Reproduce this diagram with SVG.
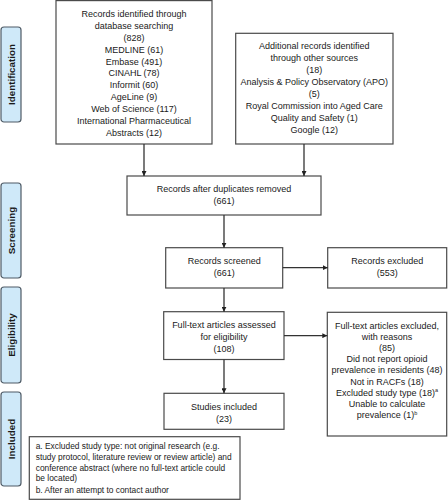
<svg xmlns="http://www.w3.org/2000/svg" width="448" height="500" viewBox="0 0 448 500">
<style>
.box{fill:#fff;stroke:#4a4a4a;stroke-width:1.2}
.lab{fill:#cfe9f9;stroke:#4f5b66;stroke-width:1.2}
.t{font-family:"Liberation Sans",Arial,sans-serif;font-size:9px;fill:#1a1a1a;text-anchor:middle}
.f{font-family:"Liberation Sans",Arial,sans-serif;font-size:8.4px;fill:#1a1a1a}
.lt{font-family:"Liberation Sans",Arial,sans-serif;font-size:9.8px;font-weight:bold;fill:#1a1a1a;text-anchor:middle}
.c{stroke:#333;stroke-width:1.3;fill:none;marker-end:url(#ah)}
.sup{font-size:5.5px}
</style>
<defs>
<marker id="ah" viewBox="0 0 10 10" refX="10" refY="5" markerWidth="5" markerHeight="5" markerUnits="userSpaceOnUse" orient="auto">
<path d="M0,0 L10,5 L0,10 z" fill="#222"/>
</marker>
</defs>
<rect width="448" height="500" fill="#fff"/>

<g id="phase-identification">
<rect class="lab" x="1" y="27" width="20" height="95" rx="3"/>
<text class="lt" transform="translate(14.5,74.5) rotate(-90)">Identification</text>
</g>
<g id="phase-screening">
<rect class="lab" x="1" y="183" width="20" height="95" rx="3"/>
<text class="lt" transform="translate(14.5,230.5) rotate(-90)">Screening</text>
</g>
<g id="phase-eligibility">
<rect class="lab" x="1" y="287" width="20" height="96" rx="3"/>
<text class="lt" transform="translate(14.5,335) rotate(-90)">Eligibility</text>
</g>
<g id="phase-included">
<rect class="lab" x="1" y="392" width="20" height="94" rx="3"/>
<text class="lt" transform="translate(14.5,439) rotate(-90)">Included</text>
</g>

<g id="db-search">
<rect class="box" x="56" y="0.6" width="156" height="143.4"/>
<text class="t" x="134" y="17">Records identified through</text>
<text class="t" x="134" y="28.9">database searching</text>
<text class="t" x="134" y="40.7">(828)</text>
<text class="t" x="134" y="52.6">MEDLINE (61)</text>
<text class="t" x="134" y="64.5">Embase (491)</text>
<text class="t" x="134" y="76.4">CINAHL (78)</text>
<text class="t" x="134" y="88.2">Informit (60)</text>
<text class="t" x="134" y="100.1">AgeLine (9)</text>
<text class="t" x="134" y="112">Web of Science (117)</text>
<text class="t" x="134" y="123.8">International Pharmaceutical</text>
<text class="t" x="134" y="135.7">Abstracts (12)</text>
</g>

<g id="other-sources">
<rect class="box" x="235.7" y="33.3" width="157.3" height="110.7"/>
<text class="t" x="314.3" y="49">Additional records identified</text>
<text class="t" x="314.3" y="61">through other sources</text>
<text class="t" x="314.3" y="73">(18)</text>
<text class="t" x="314.3" y="85">Analysis &amp; Policy Observatory (APO)</text>
<text class="t" x="314.3" y="97">(5)</text>
<text class="t" x="314.3" y="109">Royal Commission into Aged Care</text>
<text class="t" x="314.3" y="121">Quality and Safety (1)</text>
<text class="t" x="314.3" y="133">Google (12)</text>
</g>

<g id="dedup">
<rect class="box" x="127" y="176" width="194" height="39"/>
<text class="t" x="224" y="192.3">Records after duplicates removed</text>
<text class="t" x="224" y="204.3">(661)</text>
</g>

<g id="screened">
<rect class="box" x="165.7" y="247.7" width="117" height="40.3"/>
<text class="t" x="224.2" y="264">Records screened</text>
<text class="t" x="224.2" y="276">(661)</text>
</g>

<g id="excluded">
<rect class="box" x="327.7" y="247.7" width="119" height="40.3"/>
<text class="t" x="387.2" y="264">Records excluded</text>
<text class="t" x="387.2" y="276">(553)</text>
</g>

<g id="fulltext">
<rect class="box" x="163.7" y="311.7" width="120.3" height="47.8"/>
<text class="t" x="223.9" y="328">Full-text articles assessed</text>
<text class="t" x="223.9" y="340">for eligibility</text>
<text class="t" x="223.9" y="352">(108)</text>
</g>

<g id="fulltext-excluded">
<rect class="box" x="327.3" y="312.3" width="119.4" height="123.7"/>
<text class="t" x="387" y="328.5">Full-text articles excluded,</text>
<text class="t" x="387" y="339.7">with reasons</text>
<text class="t" x="387" y="350.9">(85)</text>
<text class="t" x="387" y="362.1">Did not report opioid</text>
<text class="t" x="387" y="373.3">prevalence in residents (48)</text>
<text class="t" x="387" y="384.5">Not in RACFs (18)</text>
<text class="t" x="387" y="395.7">Excluded study type (18)<tspan class="sup" dy="-3.5">a</tspan></text>
<text class="t" x="387" y="406.9">Unable to calculate</text>
<text class="t" x="387" y="418.1">prevalence (1)<tspan class="sup" dy="-3.5">b</tspan></text>
</g>

<g id="included">
<rect class="box" x="164" y="393.3" width="120" height="36"/>
<text class="t" x="224" y="409.7">Studies included</text>
<text class="t" x="224" y="422">(23)</text>
</g>

<g id="footnote">
<rect class="box" x="29.3" y="436.7" width="210.7" height="62.6"/>
<text class="f" x="35.7" y="449">a. Excluded study type: not original research (e.g.</text>
<text class="f" x="35.7" y="459.8">study protocol, literature review or review article) and</text>
<text class="f" x="35.7" y="470.6">conference abstract (where no full-text article could</text>
<text class="f" x="35.7" y="481.4">be located)</text>
<text class="f" x="35.7" y="492.6">b. After an attempt to contact author</text>
</g>

<g id="connectors">
<line class="c" x1="144" y1="144" x2="144" y2="176"/>
<line class="c" x1="304" y1="144" x2="304" y2="176"/>
<line class="c" x1="224" y1="215" x2="224" y2="247.7"/>
<line class="c" x1="282.7" y1="267.7" x2="327.7" y2="267.7"/>
<line class="c" x1="224" y1="288" x2="224" y2="311.7"/>
<line class="c" x1="284" y1="335.7" x2="327.3" y2="335.7"/>
<line class="c" x1="224" y1="359.5" x2="224" y2="393.3"/>
</g>
</svg>
